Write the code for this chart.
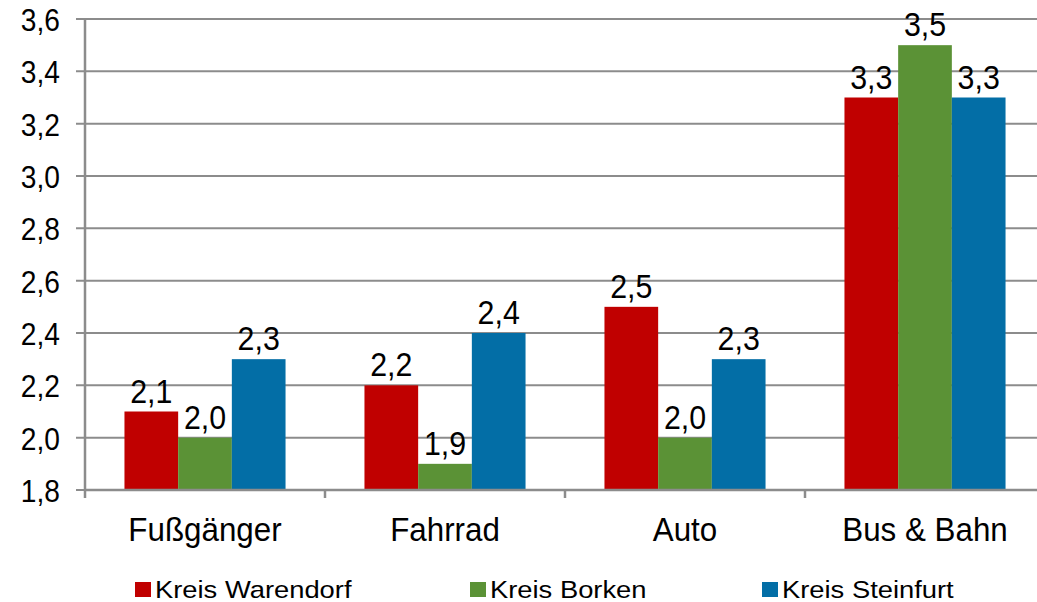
<!DOCTYPE html>
<html>
<head>
<meta charset="utf-8">
<script src="https://cdn.jsdelivr.net/npm/d3@7"></script>
<style>
  body { margin: 0; background: #fff; }
  text { font-family: "Liberation Sans", Arial, sans-serif; fill: #000; }
</style>
</head>
<body>
<div id="chart-container"></div>
<script>
const categories = ["Fußgänger", "Fahrrad", "Auto", "Bus & Bahn"];
const seriesNames = ["Kreis Warendorf", "Kreis Borken", "Kreis Steinfurt"];
const warendorf = [2.1, 2.2, 2.5, 3.3];
const borken = [2.0, 1.9, 2.0, 3.5];
const steinfurt = [2.3, 2.4, 2.3, 3.3];
const yTicks = [1.8, 2.0, 2.2, 2.4, 2.6, 2.8, 3.0, 3.2, 3.4, 3.6];

const colors = ["#C00000", "#5B9236", "#036EA6"];
const seriesValues = [warendorf, borken, steinfurt];

const svgWidth = 1037;
const svgHeight = 602;
const margin = { top: 19, right: -8, bottom: 112, left: 85 };
const gridColor = "#8c8c8c";

const svg = d3
  .select("#chart-container")
  .append("svg")
  .attr("width", svgWidth)
  .attr("height", svgHeight);

const x0 = d3
  .scaleBand()
  .domain(categories)
  .range([margin.left, svgWidth - margin.right])
  .paddingInner(0)
  .paddingOuter(0);

const x1 = d3
  .scaleBand()
  .domain(seriesNames)
  .range([0, x0.bandwidth()])
  .paddingOuter(0.735)
  .paddingInner(0);

const y = d3
  .scaleLinear()
  .domain([1.8, 3.6])
  .range([svgHeight - margin.bottom, margin.top]);

const fmt = (v) => d3.format(".1f")(v).replace(".", ",");

// the original text is slightly squeezed / stretched horizontally
const place = (x, y, sx) => `translate(${x},${y}) scale(${sx},1)`;

// horizontal gridlines
svg
  .selectAll(".grid")
  .data(yTicks)
  .enter()
  .append("line")
  .attr("class", "grid")
  .attr("x1", margin.left - 9)
  .attr("x2", svgWidth)
  .attr("y1", (d) => y(d))
  .attr("y2", (d) => y(d))
  .attr("stroke", gridColor)
  .attr("stroke-width", 2);

// y tick labels
svg
  .selectAll(".ytick")
  .data(yTicks)
  .enter()
  .append("text")
  .attr("class", "ytick")
  .attr("transform", (d) => place(60, y(d) + 12, 0.88))
  .attr("text-anchor", "end")
  .attr("font-size", "32px")
  .text(fmt);

// bars
const rows = [];
categories.forEach((c, i) => {
  seriesNames.forEach((s, j) => {
    rows.push({ cat: c, series: s, value: seriesValues[j][i], color: colors[j] });
  });
});

svg
  .selectAll(".bar")
  .data(rows)
  .enter()
  .append("rect")
  .attr("class", "bar")
  .attr("x", (d) => x0(d.cat) + x1(d.series))
  .attr("y", (d) => y(d.value))
  .attr("width", x1.bandwidth())
  .attr("height", (d) => y(1.8) - y(d.value))
  .attr("fill", (d) => d.color);

// value labels
svg
  .selectAll(".val")
  .data(rows)
  .enter()
  .append("text")
  .attr("class", "val")
  .attr("transform", (d) =>
    place(x0(d.cat) + x1(d.series) + x1.bandwidth() / 2, y(d.value) - 9, 0.92)
  )
  .attr("text-anchor", "middle")
  .attr("font-size", "33px")
  .text((d) => fmt(d.value));

// axes lines
svg
  .append("line")
  .attr("x1", margin.left)
  .attr("x2", margin.left)
  .attr("y1", y(3.6))
  .attr("y2", y(1.8) + 8)
  .attr("stroke", gridColor)
  .attr("stroke-width", 2.5);

svg
  .append("line")
  .attr("x1", margin.left)
  .attr("x2", svgWidth)
  .attr("y1", y(1.8))
  .attr("y2", y(1.8))
  .attr("stroke", gridColor)
  .attr("stroke-width", 2.5);

// category tick marks
svg
  .selectAll(".xtick")
  .data(categories.slice(1))
  .enter()
  .append("line")
  .attr("class", "xtick")
  .attr("x1", (d) => x0(d))
  .attr("x2", (d) => x0(d))
  .attr("y1", y(1.8))
  .attr("y2", y(1.8) + 8)
  .attr("stroke", gridColor)
  .attr("stroke-width", 2.5);

// category labels
svg
  .selectAll(".cat")
  .data(categories)
  .enter()
  .append("text")
  .attr("class", "cat")
  .attr("transform", (d) => place(x0(d) + x0.bandwidth() / 2, 541, 0.95))
  .attr("text-anchor", "middle")
  .attr("font-size", "33px")
  .text((d) => d);

// legend
const legendX = [135, 470, 762];
const legend = svg
  .selectAll(".legend")
  .data(seriesNames)
  .enter()
  .append("g")
  .attr("class", "legend")
  .attr("transform", (d, i) => `translate(${legendX[i]},0)`);

legend
  .append("rect")
  .attr("x", 0)
  .attr("y", 582)
  .attr("width", 16)
  .attr("height", 15)
  .attr("fill", (d, i) => colors[i]);

legend
  .append("text")
  .attr("transform", place(20, 598, 1.14))
  .attr("font-size", "24px")
  .text((d) => d);
</script>
</body>
</html>
